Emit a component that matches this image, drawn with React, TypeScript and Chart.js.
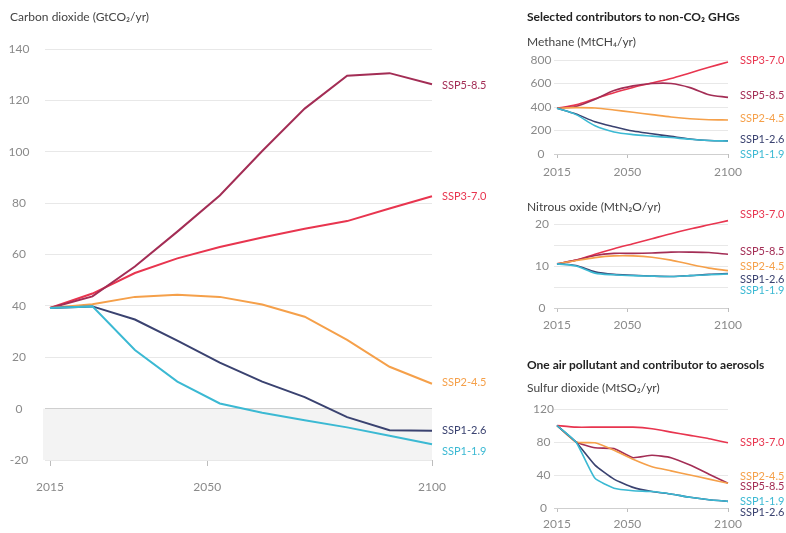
import React, { useEffect, useRef } from "react";
import { Chart, registerables } from "chart.js";

Chart.register(...registerables);

const W = 786;
const H = 533;
const FONT = "Lato, 'Noto Sans', 'DejaVu Sans', sans-serif";

// ---------- data ----------
const years = ["2015", "2020", "2030", "2040", "2050", "2060", "2070", "2080", "2090", "2100"];
const yearTicks = [2015, 2050, 2100];

const scenarioNames = ["SSP1-1.9", "SSP1-2.6", "SSP2-4.5", "SSP5-8.5", "SSP3-7.0"];
const scenarioColors = ["#3bb9d3", "#3a4270", "#f5a04a", "#a32d55", "#e8354f"];

// Carbon dioxide (GtCO2/yr)
const co2Ssp119 = [39.2, 39.8, 22.8, 10.5, 2.0, -1.6, -4.5, -7.3, -10.6, -13.9];
const co2Ssp126 = [39.2, 39.8, 34.7, 26.5, 17.9, 10.5, 4.5, -3.3, -8.4, -8.6];
const co2Ssp245 = [39.2, 40.6, 43.5, 44.3, 43.5, 40.5, 35.8, 26.8, 16.3, 9.7];
const co2Ssp585 = [39.2, 43.7, 55.3, 68.9, 83.0, 100.3, 116.8, 129.6, 130.6, 126.3];
const co2Ssp370 = [39.2, 44.8, 52.8, 58.5, 62.9, 66.6, 70.0, 73.0, 77.9, 82.7];

// Methane (MtCH4/yr)
const ch4Ssp119 = [390, 335, 240, 188, 165, 152, 140, 125, 115, 110];
const ch4Ssp126 = [390, 340, 275, 232, 195, 172, 150, 128, 115, 112];
const ch4Ssp245 = [390, 395, 392, 375, 355, 335, 315, 300, 292, 290];
const ch4Ssp585 = [390, 405, 465, 540, 580, 600, 600, 565, 505, 482];
const ch4Ssp370 = [390, 418, 470, 522, 566, 605, 642, 690, 738, 783];

// Nitrous oxide (MtN2O/yr)
const n2oSsp119 = [10.5, 10.0, 8.3, 7.9, 7.7, 7.6, 7.5, 7.7, 7.9, 8.1];
const n2oSsp126 = [10.5, 10.1, 8.6, 8.0, 7.8, 7.6, 7.5, 7.7, 8.0, 8.2];
const n2oSsp245 = [10.5, 11.3, 12.0, 12.4, 12.4, 12.1, 11.4, 10.4, 9.5, 8.9];
const n2oSsp585 = [10.5, 11.4, 12.5, 13.0, 13.0, 13.1, 13.3, 13.3, 13.2, 12.8];
const n2oSsp370 = [10.5, 11.4, 12.8, 14.1, 15.3, 16.5, 17.7, 18.8, 19.8, 20.8];

// Sulfur dioxide (MtSO2/yr)
const so2Ssp119 = [100, 80, 36, 24, 21, 20, 17, 13, 10, 8];
const so2Ssp126 = [100, 80, 52, 35, 25, 20, 17, 13, 10, 8];
const so2Ssp245 = [100, 80, 79, 70, 59, 50, 45, 40, 35, 30];
const so2Ssp585 = [100, 80, 73, 72, 61, 64, 61, 52, 41, 30];
const so2Ssp370 = [100, 98, 98, 98, 98, 96, 92, 88, 84, 79];

// ---------- panel specs ----------
type Series = { name: string; data: number[]; color: string; labelDy: number };
type Spec = {
  series: Series[];
  area: { left: number; top: number; right: number; bottom: number };
  yMin: number;
  yMax: number;
  yStep: number;
  yLabelEvery: number;
  yLabelCenter: number;
  yTickLen: number;
  xTickLen: number;
  xLabelY: number;
  lineWidth: number;
  tension: number;
  labelDx: number;
  tickFont: number;
  labelFont: number;
  band: boolean;
};

function mkSeries(data: number[][], dys: number[]): Series[] {
  return data.map((d, i) => ({ name: scenarioNames[i], data: d, color: scenarioColors[i], labelDy: dys[i] }));
}

const specs: Spec[] = [
  {
    series: mkSeries([co2Ssp119, co2Ssp126, co2Ssp245, co2Ssp585, co2Ssp370], [7, 0, -1, 1, 0]),
    area: { left: 50, top: 49, right: 432, bottom: 460 },
    yMin: -20, yMax: 140, yStep: 20, yLabelEvery: 20, yLabelCenter: 19,
    yTickLen: 5, xTickLen: 6, xLabelY: 487, lineWidth: 2, tension: 0,
    labelDx: 10, tickFont: 12, labelFont: 11, band: true,
  },
  {
    series: mkSeries([ch4Ssp119, ch4Ssp126, ch4Ssp245, ch4Ssp585, ch4Ssp370], [13, -1, -1, -2, -2]),
    area: { left: 557, top: 60, right: 728, bottom: 154 },
    yMin: 0, yMax: 800, yStep: 200, yLabelEvery: 200, yLabelCenter: 541,
    yTickLen: 3, xTickLen: 4, xLabelY: 172, lineWidth: 1.6, tension: 0.3,
    labelDx: 12, tickFont: 12, labelFont: 11, band: false,
  },
  {
    series: mkSeries([n2oSsp119, n2oSsp126, n2oSsp245, n2oSsp585, n2oSsp370], [16, 6, -4, -3, -6]),
    area: { left: 557, top: 224, right: 728, bottom: 308 },
    yMin: 0, yMax: 20, yStep: 5, yLabelEvery: 10, yLabelCenter: 542,
    yTickLen: 3, xTickLen: 4, xLabelY: 325, lineWidth: 1.6, tension: 0.3,
    labelDx: 12, tickFont: 12, labelFont: 11, band: false,
  },
  {
    series: mkSeries([so2Ssp119, so2Ssp126, so2Ssp245, so2Ssp585, so2Ssp370], [0, 11, -7, 3, 0]),
    area: { left: 557, top: 409, right: 728, bottom: 508 },
    yMin: 0, yMax: 120, yStep: 20, yLabelEvery: 40, yLabelCenter: 544,
    yTickLen: 3, xTickLen: 4, xLabelY: 524, lineWidth: 1.6, tension: 0.15,
    labelDx: 12, tickFont: 12, labelFont: 11, band: false,
  },
];

const TICK_COLOR = "#8a8a8a";
const GRID_COLOR = "#e8e8e8";
const ZERO_COLOR = "#cfcfcf";

function Panel({ spec }: { spec: Spec }) {
  const ref = useRef<HTMLCanvasElement | null>(null);
  useEffect(() => {
    const canvas = ref.current!;
    const c2d = canvas.getContext("2d")!;
    c2d.font = `${spec.tickFont}px ${FONT}`;
    const labels: string[] = [];
    for (let v = spec.yMin; v <= spec.yMax; v += spec.yStep) {
      if (v % spec.yLabelEvery === 0) labels.push(String(v));
    }
    const widest = Math.max(...labels.map((l) => c2d.measureText(l).width));
    const yPad = Math.max(0, spec.area.left - spec.yTickLen - widest / 2 - spec.yLabelCenter);
    const xPad = Math.max(0, spec.xLabelY - spec.area.bottom - spec.xTickLen - spec.tickFont * 0.6);

    const bandPlugin = {
      id: "band",
      beforeDraw(chart: any) {
        if (!spec.band) return;
        const { ctx, chartArea, scales } = chart;
        const y0 = scales.y.getPixelForValue(0);
        const y1 = scales.y.getPixelForValue(spec.yMin);
        ctx.save();
        ctx.fillStyle = "#f3f3f3";
        ctx.fillRect(chartArea.left - 7, y0, chartArea.right - chartArea.left + 7, y1 - y0);
        ctx.restore();
      },
    };
    const labelPlugin = {
      id: "endLabels",
      afterDatasetsDraw(chart: any) {
        const { ctx, chartArea } = chart;
        ctx.save();
        ctx.font = `${spec.labelFont}px ${FONT}`;
        ctx.textBaseline = "middle";
        ctx.textAlign = "left";
        spec.series.forEach((s, i) => {
          const meta = chart.getDatasetMeta(i);
          const pt = meta.data[meta.data.length - 1];
          ctx.fillStyle = s.color;
          ctx.fillText(s.name, chartArea.right + spec.labelDx, pt.y + s.labelDy);
        });
        ctx.restore();
      },
    };

    const chart = new Chart(canvas, {
      type: "line",
      data: {
        labels: years,
        datasets: spec.series.map((s) => ({
          label: s.name,
          data: s.data,
          borderColor: s.color,
          backgroundColor: s.color,
          borderWidth: spec.lineWidth,
          pointRadius: 0,
          tension: spec.tension,
          fill: false,
          clip: false,
          xAxisID: "x",
          yAxisID: "y",
        })),
      },
      options: {
        responsive: false,
        animation: false,
        devicePixelRatio: 1,
        events: [],
        layout: { padding: { left: 0, top: spec.area.top, right: W - spec.area.right, bottom: 0 } },
        plugins: { legend: { display: false }, tooltip: { enabled: false }, title: { display: false } },
        scales: {
          x: { type: "category", display: false, offset: false },
          xYear: {
            type: "linear",
            position: "bottom",
            min: 2015,
            max: 2100,
            afterBuildTicks: (s: any) => {
              s.ticks = yearTicks.map((v) => ({ value: v }));
            },
            afterFit: (s: any) => {
              s.height = H - spec.area.bottom;
            },
            grid: {
              display: true,
              drawOnChartArea: false,
              drawTicks: true,
              tickLength: spec.xTickLen,
              color: "#bdbdbd",
            },
            border: { display: false },
            ticks: {
              color: TICK_COLOR,
              font: { family: FONT, size: spec.tickFont },
              padding: xPad,
              maxRotation: 0,
              autoSkip: false,
              callback: (v: any) => String(v),
            },
          },
          y: {
            type: "linear",
            position: "left",
            min: spec.yMin,
            max: spec.yMax,
            afterFit: (s: any) => {
              s.width = spec.area.left;
            },
            ticks: {
              stepSize: spec.yStep,
              crossAlign: "center",
              padding: yPad,
              color: TICK_COLOR,
              font: { family: FONT, size: spec.tickFont },
              callback: (v: any) => (Number(v) % spec.yLabelEvery === 0 ? String(v) : ""),
            },
            grid: {
              color: (c: any) => (c.tick && c.tick.value === 0 ? ZERO_COLOR : GRID_COLOR),
              tickLength: spec.yTickLen,
              drawTicks: true,
            },
            border: { display: false },
          },
        },
      } as any,
      plugins: [bandPlugin, labelPlugin],
    });
    return () => chart.destroy();
  }, []);
  return (
    <canvas ref={ref} width={W} height={H} style={{ position: "absolute", left: 0, top: 0, width: W, height: H }} />
  );
}

type TextItem = { text: string; x: number; y: number; bold?: boolean; size: number; color: string };
const texts: TextItem[] = [
  { text: "Carbon dioxide (GtCO₂/yr)", x: 10, y: 17, size: 12, color: "#444" },
  { text: "Selected contributors to non-CO₂ GHGs", x: 527, y: 17, bold: true, size: 12, color: "#222" },
  { text: "Methane (MtCH₄/yr)", x: 527, y: 42, size: 12, color: "#444" },
  { text: "Nitrous oxide (MtN₂O/yr)", x: 527, y: 207, size: 12, color: "#444" },
  { text: "One air pollutant and contributor to aerosols", x: 527, y: 365, bold: true, size: 12, color: "#222" },
  { text: "Sulfur dioxide (MtSO₂/yr)", x: 527, y: 388, size: 12, color: "#444" },
];

export default function App() {
  return (
    <div style={{ position: "absolute", left: 0, top: 0, width: W, height: H, background: "#fff", overflow: "hidden", fontFamily: FONT }}>
      {specs.map((s, i) => (
        <Panel key={i} spec={s} />
      ))}
      {texts.map((t, i) => (
        <div
          key={i}
          style={{
            position: "absolute",
            left: t.x,
            top: t.y - 8,
            height: 16,
            lineHeight: "16px",
            fontSize: t.size,
            fontWeight: t.bold ? 700 : 400,
            color: t.color,
            whiteSpace: "nowrap",
          }}
        >
          {t.text}
        </div>
      ))}
    </div>
  );
}
